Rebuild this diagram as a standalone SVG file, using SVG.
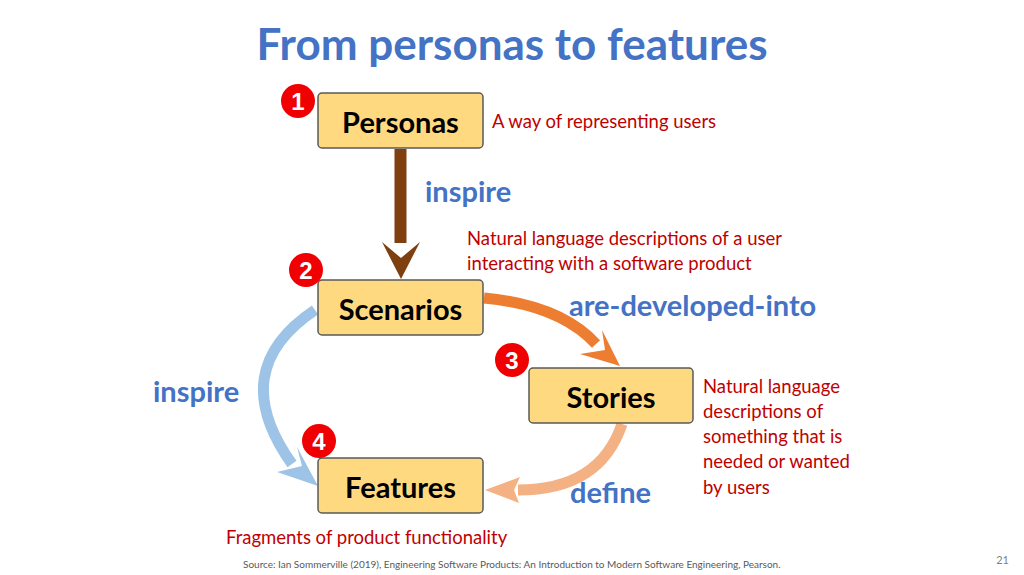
<svg xmlns="http://www.w3.org/2000/svg" width="1024" height="575" viewBox="0 0 1024 575">
<style>
text{font-family:Lato,"Liberation Sans",sans-serif}
.box{fill:#FFD97F;stroke:#595959;stroke-width:1.5}
.bl{font-size:29px;font-weight:bold;fill:#000;text-anchor:middle}
.rel{font-size:29px;font-weight:bold;fill:#4472C4}
.note{font-size:18.5px;fill:#C00000}
.num{fill:#F00000}
.nt{font-size:24px;font-weight:bold;fill:#fff;text-anchor:middle;font-family:"Liberation Sans",sans-serif}
</style>
<rect width="1024" height="575" fill="#fff"/>
<text x="512" y="60" text-anchor="middle" style="font-size:44px;font-weight:bold;fill:#4472C4">From personas to features</text>
<g id="connectors">
<path d="M400.5 149 V243" stroke="#7F3F0F" stroke-width="12" fill="none"/>
<polygon points="382,242 401,258 420,242 401,279" fill="#7F3F0F"/>
<path d="M484 298 Q560 305 596 344" stroke="#ED7D31" stroke-width="11" fill="none"/>
<polygon points="580,354 605,350 602,330 620,366" fill="#ED7D31"/>
<path d="M315 310 Q225 370 292 464" stroke="#9DC3E6" stroke-width="11" fill="none"/>
<polygon points="277,472 302,466 297,447 318,486" fill="#9DC3E6"/>
<path d="M622 424 Q600 490 518 490" stroke="#F4B183" stroke-width="11" fill="none"/>
<polygon points="520,477 514,490 519,503 485,490" fill="#F4B183"/>
</g>
<g id="personas"><rect class="box" x="318" y="93" width="165" height="55" rx="4"/><text class="bl" x="400.5" y="133">Personas</text></g>
<g id="scenarios"><rect class="box" x="318" y="280" width="165" height="55" rx="4"/><text class="bl" x="400.5" y="320">Scenarios</text></g>
<g id="stories"><rect class="box" x="529" y="368" width="164" height="55" rx="4"/><text class="bl" x="611" y="408">Stories</text></g>
<g id="features"><rect class="box" x="318" y="458" width="165" height="55" rx="4"/><text class="bl" x="400.5" y="498">Features</text></g>
<g id="badges">
<circle class="num" cx="298" cy="101" r="17"/><text class="nt" x="298" y="110">1</text>
<circle class="num" cx="306" cy="270" r="17"/><text class="nt" x="306" y="279">2</text>
<circle class="num" cx="512" cy="360" r="17"/><text class="nt" x="512" y="369">3</text>
<circle class="num" cx="319" cy="441" r="17"/><text class="nt" x="319" y="450">4</text>
</g>
<text class="rel" x="425" y="202">inspire</text>
<text class="rel" x="569" y="316">are-developed-into</text>
<text class="rel" x="153" y="402">inspire</text>
<text class="rel" x="570" y="503">define</text>
<text class="note" x="492" y="128">A way of representing users</text>
<text class="note" x="467" y="245">Natural language descriptions of a user</text>
<text class="note" x="467" y="270">interacting with a software product</text>
<text class="note" x="703" y="393">Natural language</text>
<text class="note" x="703" y="418">descriptions of</text>
<text class="note" x="703" y="443">something that is</text>
<text class="note" x="703" y="468">needed or wanted</text>
<text class="note" x="703" y="494">by users</text>
<text class="note" x="226" y="544">Fragments of product functionality</text>
<text x="243" y="568" style="font-size:10px;fill:#595959">Source: Ian Sommerville (2019), Engineering Software Products:  An Introduction to Modern Software Engineering, Pearson.</text>
<text x="1009" y="564" text-anchor="end" style="font-size:11px;fill:#7F7F7F">21</text>
</svg>
